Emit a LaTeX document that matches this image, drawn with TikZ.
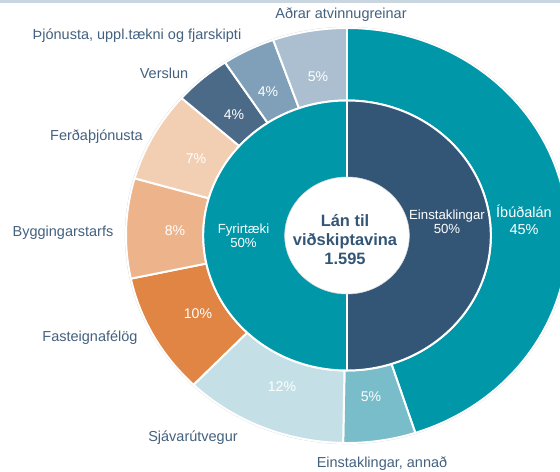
\documentclass[tikz,border=0pt]{standalone}
\usepackage{fontspec}
\setmainfont{Liberation Sans}
\definecolor{cTeal}{HTML}{0097A9}
\definecolor{cDark}{HTML}{345676}
\definecolor{cAnnad}{HTML}{78BDC9}
\definecolor{cSjav}{HTML}{C4E0E6}
\definecolor{cFast}{HTML}{E08543}
\definecolor{cBygg}{HTML}{EDB48C}
\definecolor{cFerd}{HTML}{F2CFB3}
\definecolor{cVersl}{HTML}{4B6A88}
\definecolor{cThjon}{HTML}{7FA0B8}
\definecolor{cAdrar}{HTML}{ABBFD0}
\definecolor{cLabel}{HTML}{44617F}
\definecolor{cBand}{HTML}{C9D6E0}
\newcommand\ringseg[5]{%
  \fill[#1,draw=white,line width=1.4pt,line join=round]
    (#2:#5) arc[start angle=#2,end angle=#3,radius=#5]
    -- (#3:#4) arc[start angle=#3,end angle=#2,radius=#4] -- cycle;}
\tikzset{
  outlbl/.style={text=cLabel,inner sep=0pt,font=\fontsize{10.3}{12}\selectfont},
  pct/.style={text=white,inner sep=0pt,font=\fontsize{10}{12}\selectfont},
  inlbl/.style={text=white,inner sep=0pt,align=center,font=\fontsize{9.4}{10}\selectfont},
  ctr/.style={text=cDark,inner sep=0pt,align=center,font=\fontsize{11.7}{13.5}\selectfont\bfseries}
}
\begin{document}
\begin{tikzpicture}[x=0.025cm,y=0.025cm]
\useasboundingbox (0,0) rectangle (560,-472);
\clip (0,0) rectangle (560,-472);
\fill[white] (0,0) rectangle (560,-472);
\fill[cBand] (0,0) rectangle (560,-3);
\begin{scope}[shift={(347,-235.5)},xscale=1.065]
  \fill[black!18] (0,0) circle[radius=208.6];
  \fill[white] (0,0) circle[radius=207.9];
  % outer ring
  \ringseg{cTeal}{90}{-72}{135}{207.5}
  \ringseg{cAnnad}{-72}{-91}{135}{207.5}
  \ringseg{cSjav}{-91}{-134}{135}{207.5}
  \ringseg{cFast}{-134}{-168}{135}{207.5}
  \ringseg{cBygg}{192}{164}{135}{207.5}
  \ringseg{cFerd}{164}{138.5}{135}{207.5}
  \ringseg{cVersl}{138.5}{123.5}{135}{207.5}
  \ringseg{cThjon}{123.5}{109.5}{135}{207.5}
  \ringseg{cAdrar}{109.5}{90}{135}{207.5}
  % inner ring
  \ringseg{cDark}{90}{-90}{0.01}{135}
  \ringseg{cTeal}{90}{270}{0.01}{135}
  % centre
  \fill[white,draw=black!15,line width=0.4pt] (0,0) circle[radius=58.5];
\end{scope}
% outer labels
\node[outlbl] (l1) at (341,-15) {Aðrar atvinnugreinar};
\node[outlbl] (l2) at (137,-36) {Þjónusta, uppl.tækni og fjarskipti};
\node[outlbl] (l3) at (164,-73) {Verslun};
\node[outlbl] (l4) at (96.5,-137) {Ferðaþjónusta};
\node[outlbl] (l5) at (63,-233) {Byggingarstarfs};
\node[outlbl] (l6) at (90,-338) {Fasteignafélög};
\node[outlbl] (l7) at (193,-438) {Sjávarútvegur};
\node[outlbl] (l8) at (382,-464) {Einstaklingar, annað};
% percentages
\node[pct] (p1) at (318,-77) {5\%};
\node[pct] (p2) at (268,-92) {4\%};
\node[pct] (p3) at (234,-115) {4\%};
\node[pct] (p4) at (196,-159) {7\%};
\node[pct] (p5) at (175,-231) {8\%};
\node[pct] (p6) at (198,-314) {10\%};
\node[pct] (p7) at (282,-387) {12\%};
\node[pct] (p8) at (371,-397) {5\%};
\node[inlbl,font=\fontsize{10.3}{11.8}\selectfont] (ib) at (524,-220) {Íbúðalán\\45\%};
\node[inlbl] (ei) at (447,-222) {Einstaklingar\\50\%};
\node[inlbl] (fy) at (243.5,-236) {Fyrirtæki\\50\%};
\node[ctr] (c) at (345,-240) {Lán til\\viðskiptavina\\1.595};
\end{tikzpicture}
\end{document}
